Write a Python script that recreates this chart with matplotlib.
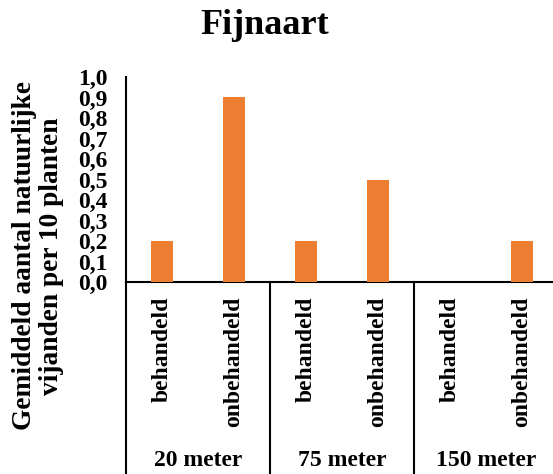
import matplotlib
matplotlib.use("Agg")
import matplotlib.pyplot as plt
from matplotlib.ticker import FixedLocator, FuncFormatter

# Data
groups = ["20 meter", "75 meter", "150 meter"]
treatments = ["behandeld", "onbehandeld"]
values = [0.2, 0.9, 0.2, 0.5, 0.0, 0.2]
yticks = [0.0, 0.1, 0.2, 0.3, 0.4, 0.5, 0.6, 0.7, 0.8, 0.9, 1.0]

plt.rcParams["font.family"] = ["Liberation Serif", "DejaVu Serif"]
plt.rcParams["font.weight"] = "bold"

W, H = 553, 474
fig = plt.figure(figsize=(W / 100, H / 100), dpi=100)

ax_left, ax_right = 126, 553
ax_top, ax_bottom = 77, 282
ax = fig.add_axes([ax_left / W, 1 - ax_bottom / H, (ax_right - ax_left) / W, (ax_bottom - ax_top) / H])

n = len(values)
cat_w = 72.0
xmax = -0.5 + (ax_right - ax_left) / cat_w
x = list(range(n))
ax.bar(x, values, width=0.31, color="#ED7D31", zorder=3)

ax.set_xlim(-0.5, xmax)
ax.set_ylim(0, 1.0)
ax.yaxis.set_major_locator(FixedLocator(yticks))
ax.yaxis.set_major_formatter(FuncFormatter(lambda v, p: f"{v:.1f}".replace(".", ",")))
ax.tick_params(axis="y", length=0, pad=13.5, labelsize=17)
for lab in ax.get_yticklabels():
    lab.set_fontweight("bold")
ax.set_xticks([])

for s in ["top", "right"]:
    ax.spines[s].set_visible(False)
ax.spines["left"].set_linewidth(1.5)
ax.spines["bottom"].set_linewidth(1.5)

# Category and group labels below the axis
trans = ax.get_xaxis_transform()
for i, v in enumerate(values):
    ax.text(i, -(297 - ax_bottom) / (ax_bottom - ax_top), treatments[i % 2],
            transform=trans, rotation=90, ha="center", va="top",
            fontsize=17, fontweight="bold", clip_on=False)

for g, name in enumerate(groups):
    ax.text(g * 2 + 0.5, -(460 - ax_bottom) / (ax_bottom - ax_top), name,
            transform=trans, ha="center", va="center",
            fontsize=17, fontweight="bold", clip_on=False)

# Group separators extending below the axis
for b in [-0.5, 1.5, 3.5]:
    ax.plot([b, b], [0, -(H - ax_bottom + 5) / (ax_bottom - ax_top)], transform=trans,
            color="black", lw=1.5, clip_on=False, zorder=4)

fig.text(265 / W, 1 - 25 / H, "Fijnaart", ha="center", va="center",
         fontsize=26, fontweight="bold")
fig.text(38 / W, 1 - 256 / H, "Gemiddeld aantal natuurlijke\nvijanden per 10 planten",
         rotation=90, ha="center", va="center", fontsize=19.7, fontweight="bold",
         linespacing=1.15, multialignment="center")

fig.savefig("out.png", dpi=100)
